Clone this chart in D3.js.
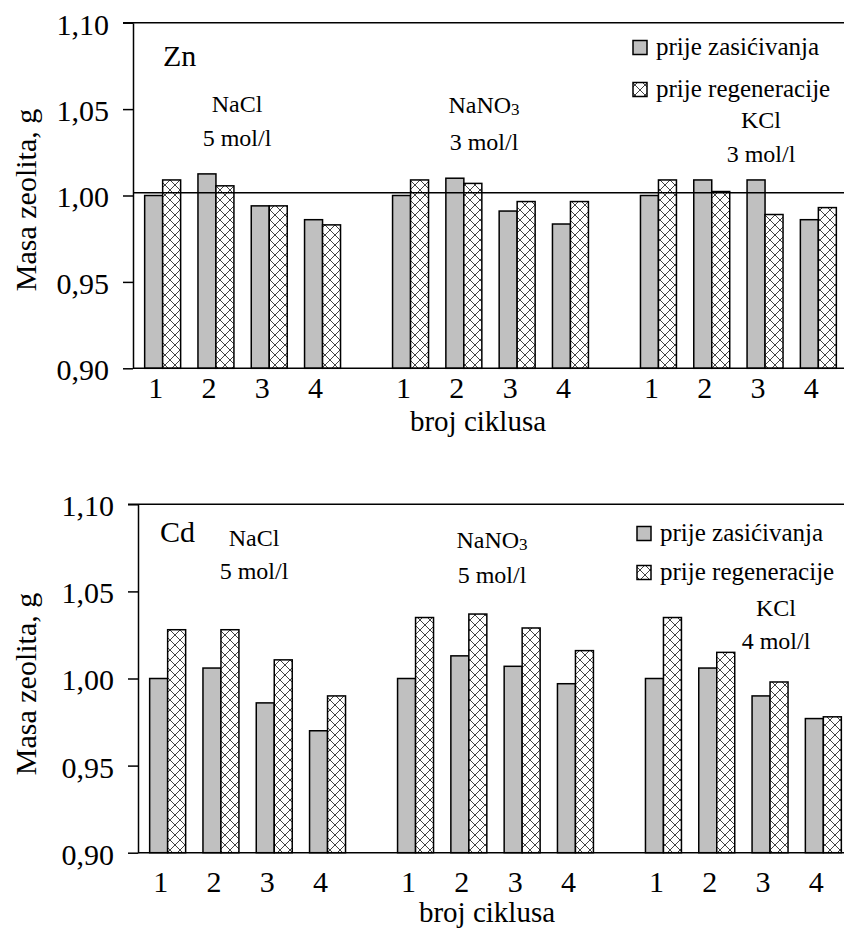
<!DOCTYPE html>
<html>
<head>
<meta charset="utf-8">
<script src="https://cdn.jsdelivr.net/npm/d3@7"></script>
<style>
  body { margin: 0; background: #fff; }
  svg text { font-family: "Liberation Serif", Tinos, "Times New Roman", "DejaVu Serif", serif; fill: #000; }
</style>
</head>
<body>
<svg id="chart" width="844" height="929"></svg>
<script>
// data
const groups = ["NaCl", "NaNO3", "KCl"];
const cycles = ["1", "2", "3", "4"];
const series = ["prije zasićivanja", "prije regeneracije"];
const yTicks = [0.90, 0.95, 1.00, 1.05, 1.10];

const znBefore = [1.000, 1.0125, 0.994, 0.986, 1.000, 1.010, 0.991, 0.9835, 1.000, 1.009, 1.009, 0.986];
const znRegen  = [1.009, 1.0056, 0.994, 0.983, 1.009, 1.007, 0.9965, 0.9965, 1.009, 1.0023, 0.989, 0.993];
const znConc = ["5 mol/l", "3 mol/l", "3 mol/l"];
const znRefLine = 1.0016;

const cdBefore = [1.000, 1.006, 0.986, 0.970, 1.000, 1.013, 1.007, 0.997, 1.000, 1.006, 0.990, 0.977];
const cdRegen  = [1.028, 1.028, 1.0107, 0.990, 1.035, 1.037, 1.029, 1.016, 1.035, 1.015, 0.998, 0.978];
const cdConc = ["5 mol/l", "5 mol/l", "4 mol/l"];

const FONT = '"Liberation Serif", Tinos, "Times New Roman", "DejaVu Serif", serif';
const svg = d3.select("#chart");

// hatch pattern
const defs = svg.append("defs");
const pat = defs.append("pattern")
    .attr("id", "hatch")
    .attr("patternUnits", "userSpaceOnUse")
    .attr("width", 10).attr("height", 10);
pat.append("rect").attr("width", 10).attr("height", 10).attr("fill", "#fff");
pat.append("path").attr("d", "M0,0L10,10M10,0L0,10M-1,9L1,11M9,-1L11,1")
    .attr("stroke", "#444").attr("stroke-width", 1);

const fills = ["#c0c0c0", "url(#hatch)"];

const panels = [
    {
        metal: "Zn", before: znBefore, regen: znRegen, conc: znConc, refLine: znRefLine,
        left: 133, top: 22.7, bottom: 368.3,
        metalPos: [163, 65.7],
        saltPos: [[237, 111.7, 145.7], [484, 113, 150], [761, 128.3, 161.7]],
        legendY: [40.5, 82.5], legendX: 633,
        xLabelY: 398, titleX: 478, titleY: 431, yTitleY: 200
    },
    {
        metal: "Cd", before: cdBefore, regen: cdRegen, conc: cdConc, refLine: null,
        left: 138, top: 504.3, bottom: 852.7,
        metalPos: [160, 541.7],
        saltPos: [[254, 546, 579.3], [492, 548.3, 583.3], [776, 616, 649.3]],
        legendY: [526.5, 565.5], legendX: 637,
        xLabelY: 891.7, titleX: 487, titleY: 921.7, yTitleY: 684
    }
];

panels.forEach(p => {
    const g = svg.append("g").attr("font-family", FONT);

    const y = d3.scaleLinear().domain([0.9, 1.1]).range([p.bottom, p.top]);

    const x0 = d3.scaleBand().domain(groups)
        .range([p.left + 3, p.left + 712])
        .paddingInner(0.14).paddingOuter(0);
    const x1 = d3.scaleBand().domain(cycles)
        .range([0, x0.bandwidth()])
        .paddingInner(0.325).paddingOuter(0.1625);
    const xs = d3.scaleBand().domain(series).range([0, x1.bandwidth()]);

    const rows = [];
    groups.forEach((grp, gi) => {
        cycles.forEach((c, ci) => {
            const i = gi * cycles.length + ci;
            rows.push({ grp, c, s: series[0], v: p.before[i], k: 0 });
            rows.push({ grp, c, s: series[1], v: p.regen[i], k: 1 });
        });
    });

    g.selectAll("rect.bar")
        .data(rows)
        .enter()
        .append("rect")
        .attr("class", "bar")
        .attr("x", d => x0(d.grp) + x1(d.c) + xs(d.s))
        .attr("y", d => y(d.v))
        .attr("width", xs.bandwidth())
        .attr("height", d => y(0.9) - y(d.v))
        .attr("fill", d => fills[d.k])
        .attr("stroke", "#000")
        .attr("stroke-width", 1.5);

    // frame lines
    g.append("line")
        .attr("x1", p.left - 10).attr("x2", 860)
        .attr("y1", y(1.1)).attr("y2", y(1.1))
        .attr("stroke", "#000").attr("stroke-width", 1.5);
    g.append("line")
        .attr("x1", p.left).attr("x2", 860)
        .attr("y1", y(0.9)).attr("y2", y(0.9))
        .attr("stroke", "#000").attr("stroke-width", 1.5);
    if (p.refLine !== null) {
        g.append("line")
            .attr("x1", p.left).attr("x2", 860)
            .attr("y1", y(p.refLine)).attr("y2", y(p.refLine))
            .attr("stroke", "#000").attr("stroke-width", 1.5);
    }

    const yAxis = d3.axisLeft(y)
        .tickValues(yTicks)
        .tickSize(10)
        .tickSizeOuter(0)
        .tickPadding(14)
        .tickFormat(d => d3.format(".2f")(d).replace(".", ","));

    const ax = g.append("g")
        .attr("transform", `translate(${p.left},0)`)
        .call(yAxis)
        .attr("font-family", FONT)
        .attr("font-size", 30);
    ax.select(".domain").attr("stroke-width", 1.5);
    ax.selectAll(".tick line").attr("stroke-width", 1.5);
    ax.selectAll("text").attr("dy", "0.38em");

    // x tick labels
    const labs = [];
    groups.forEach(grp => cycles.forEach(c => labs.push({ grp, c })));
    g.selectAll("text.xlab")
        .data(labs)
        .enter()
        .append("text")
        .attr("class", "xlab")
        .attr("x", d => x0(d.grp) + x1(d.c) + x1.bandwidth() / 2 - 7)
        .attr("y", p.xLabelY)
        .attr("text-anchor", "middle")
        .attr("font-size", 30)
        .text(d => d.c);

    g.append("text")
        .attr("x", p.titleX).attr("y", p.titleY)
        .attr("text-anchor", "middle")
        .attr("font-size", 29)
        .text("broj ciklusa");

    g.append("text")
        .attr("transform", `translate(36,${p.yTitleY}) rotate(-90)`)
        .attr("text-anchor", "middle")
        .attr("font-size", 30)
        .text("Masa zeolita, g");

    g.append("text")
        .attr("x", p.metalPos[0]).attr("y", p.metalPos[1])
        .attr("font-size", 30)
        .text(p.metal);

    // salt annotations
    groups.forEach((grp, gi) => {
        const pos = p.saltPos[gi];
        const t = g.append("text")
            .attr("x", pos[0]).attr("y", pos[1])
            .attr("text-anchor", "middle")
            .attr("font-size", 24);
        if (grp === "NaNO3") {
            t.append("tspan").text("NaNO");
            t.append("tspan").attr("dy", 2).attr("font-size", 17).text("3");
        } else {
            t.text(grp);
        }
        g.append("text")
            .attr("x", pos[0]).attr("y", pos[2])
            .attr("text-anchor", "middle")
            .attr("font-size", 24)
            .text(p.conc[gi]);
    });

    // legend
    series.forEach((s, k) => {
        g.append("rect")
            .attr("x", p.legendX).attr("y", p.legendY[k])
            .attr("width", 14).attr("height", 14)
            .attr("fill", fills[k])
            .attr("stroke", "#000").attr("stroke-width", 1.5);
        g.append("text")
            .attr("x", p.legendX + 23).attr("y", p.legendY[k] + 14.5)
            .attr("font-size", 25)
            .text(s);
    });
});
</script>
</body>
</html>
